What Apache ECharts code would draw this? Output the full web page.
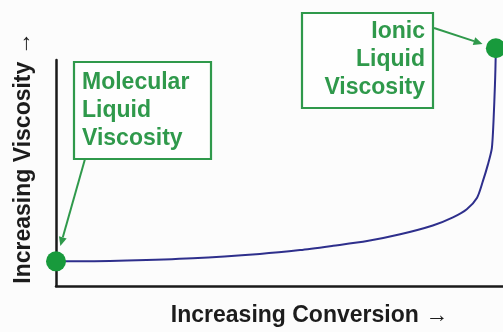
<!DOCTYPE html>
<html>
<head>
<meta charset="utf-8">
<script src="https://cdn.jsdelivr.net/npm/echarts@6/dist/echarts.min.js"></script>
<style>
  html, body { margin: 0; padding: 0; background: #fcfcfc; }
  #chart { width: 503px; height: 332px; }
</style>
</head>
<body>
<div id="chart"></div>
<script>
// Viscosity of the reaction mixture as conversion proceeds (relative units)
const conversion = [0, 2.5, 15.9, 30.6, 45.6, 54.6, 62.0, 69.6, 77.0, 84.3, 88.8, 91.9, 94.2, 95.5, 96.6, 97.5, 97.9, 98.2, 98.3, 98.4];
const viscosity  = [10.9, 10.9, 11.3, 12.3, 14.2, 15.9, 17.8, 19.9, 22.9, 26.8, 30.4, 34.0, 39.1, 46.4, 53.6, 60.9, 73.9, 89.1, 95.7, 105.2];

const xAxisTitle = 'Increasing Conversion \u2192';
const yAxisTitle = 'Increasing Viscosity \u2192';
const startNote = ['Molecular', 'Liquid', 'Viscosity'];
const endNote = ['Ionic', 'Liquid', 'Viscosity'];

const GREEN = '#2f994b';
const DOT = '#189a3c';
const CURVE = '#2e2f8c';
const FONT = '"Liberation Sans", Arial, sans-serif';

const curve = conversion.map((c, i) => [c, viscosity[i]]);
const first = curve[0];
const last = curve[curve.length - 1];

const chart = echarts.init(document.getElementById('chart'), null, { renderer: 'canvas' });

chart.setOption({
  backgroundColor: '#fcfcfc',
  animation: false,
  grid: { left: 56, right: 0, top: 60, bottom: 42, containLabel: false },
  xAxis: {
    type: 'value', min: 0, max: 100,
    name: xAxisTitle, nameLocation: 'middle', nameGap: 18,
    nameTextStyle: { fontFamily: FONT, fontWeight: 'bold', fontSize: 23, color: '#1c1c1c', padding: [0, 0, 0, 60] },
    axisLine: { show: true, lineStyle: { color: '#1a1a1a', width: 2.5 } },
    axisTick: { show: false }, axisLabel: { show: false }, splitLine: { show: false }
  },
  yAxis: {
    type: 'value', min: 0, max: 100,
    name: yAxisTitle, nameLocation: 'middle', nameGap: 21, nameRotate: 90,
    nameTextStyle: { fontFamily: FONT, fontWeight: 'bold', fontSize: 23, color: '#1c1c1c', padding: [0, 0, 0, 30] },
    axisLine: { show: true, lineStyle: { color: '#1a1a1a', width: 2.5 } },
    axisTick: { show: false }, axisLabel: { show: false }, splitLine: { show: false }
  },
  series: [
    {
      type: 'line', data: curve, clip: false,
      smooth: 0.25, showSymbol: false,
      lineStyle: { color: CURVE, width: 2 }, z: 3
    },
    {
      type: 'scatter', data: [first, last], clip: false,
      symbol: 'circle', symbolSize: 20,
      itemStyle: { color: DOT, opacity: 1 }, z: 5
    }
  ]
});

// Annotation boxes with arrows pointing at the curve's end points
function arrowTo(anchor, target, gap) {
  const dx = target[0] - anchor[0], dy = target[1] - anchor[1];
  const len = Math.hypot(dx, dy);
  const ux = dx / len, uy = dy / len;
  const tip = [target[0] - ux * gap, target[1] - uy * gap];
  const hl = 9, hw = 4;
  const base = [tip[0] - ux * hl, tip[1] - uy * hl];
  return [
    { type: 'line', shape: { x1: anchor[0], y1: anchor[1], x2: base[0], y2: base[1] },
      style: { stroke: GREEN, lineWidth: 2 }, z: 10 },
    { type: 'polygon', shape: { points: [tip, [base[0] - uy * hw, base[1] + ux * hw], [base[0] + uy * hw, base[1] - ux * hw]] },
      style: { fill: GREEN }, z: 10 }
  ];
}

const p0 = chart.convertToPixel({ gridIndex: 0 }, first);
const p1 = chart.convertToPixel({ gridIndex: 0 }, last);

chart.setOption({
  graphic: [
    { type: 'rect', shape: { x: 74, y: 62, width: 137, height: 97 },
      style: { fill: 'rgba(255,255,255,0.6)', stroke: GREEN, lineWidth: 2.2 }, z: 10 },
    { type: 'text', x: 82, y: 111,
      style: { text: startNote.join('\n'), fill: GREEN, font: 'bold 23px ' + FONT,
               lineHeight: 28, align: 'left', verticalAlign: 'middle' }, z: 11 },
    { type: 'rect', shape: { x: 302, y: 13, width: 131, height: 95 },
      style: { fill: 'rgba(255,255,255,0.6)', stroke: GREEN, lineWidth: 2.2 }, z: 10 },
    { type: 'text', x: 425, y: 60,
      style: { text: endNote.join('\n'), fill: GREEN, font: 'bold 23px ' + FONT,
               lineHeight: 28, align: 'right', verticalAlign: 'middle' }, z: 11 },
    ...arrowTo([85, 159], p0, 16),
    ...arrowTo([434, 28], p1, 14)
  ]
});
</script>
</body>
</html>
